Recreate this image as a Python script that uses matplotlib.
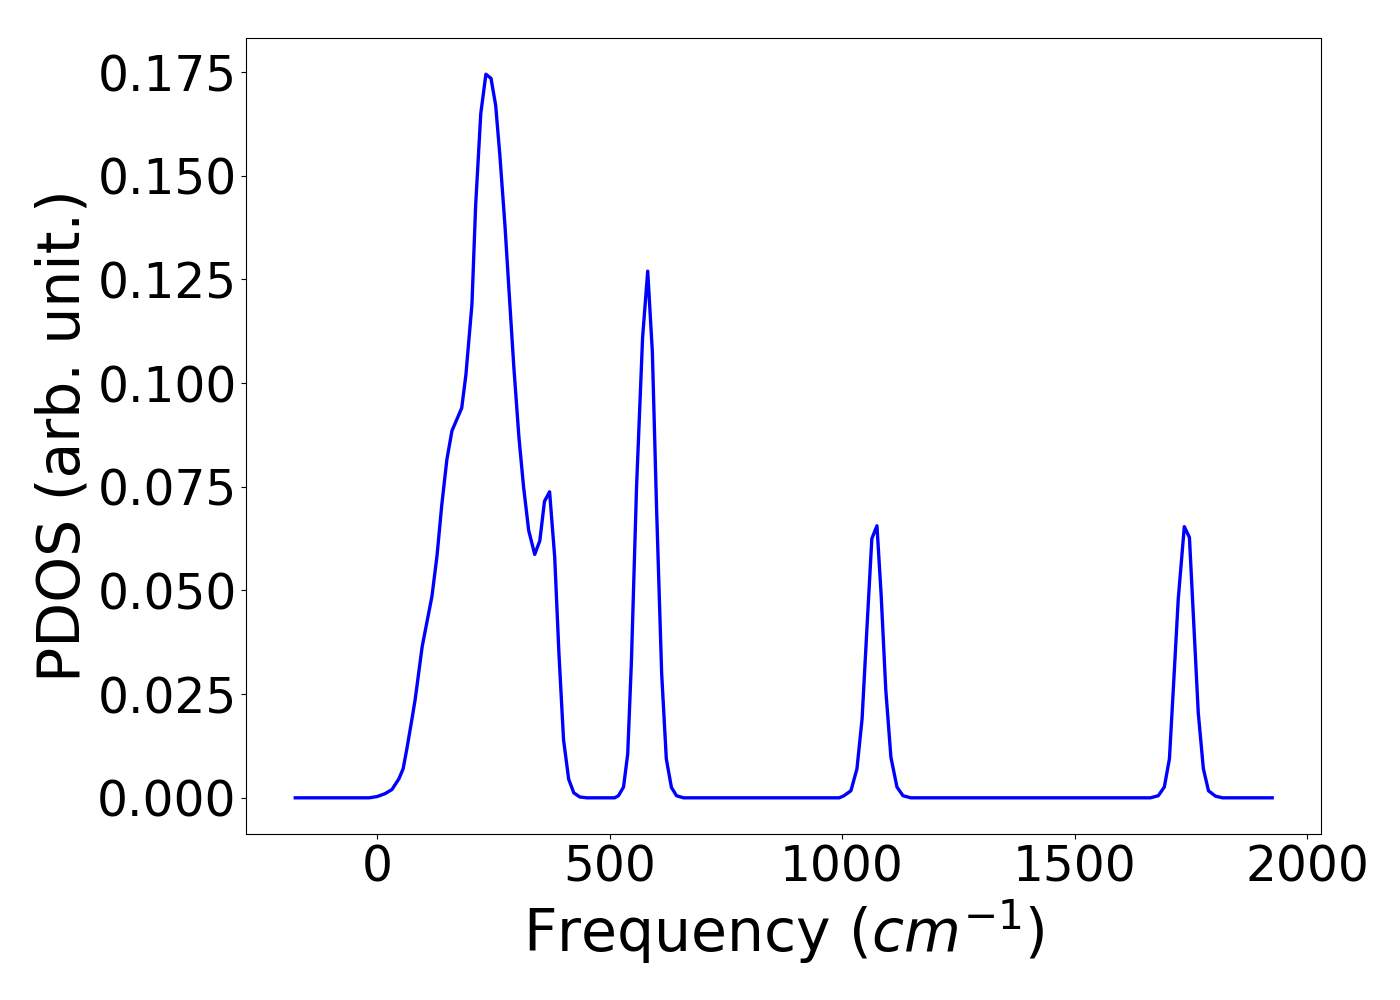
import numpy as np
import matplotlib
matplotlib.use('Agg')
import matplotlib.pyplot as plt

freq = [-176, -17, 0, 17, 32, 47, 56, 64, 75, 82, 97, 118, 129, 139, 150, 161,
        182, 191, 204, 212, 223, 234, 245, 255, 264, 275, 285, 294, 305, 315,
        326, 339, 350, 360, 371, 382, 391, 401, 412, 423, 436, 451,
        511, 519, 530, 539, 547, 558, 571, 582, 592, 601, 612, 622, 633, 644, 659,
        994, 1004, 1019, 1032, 1043, 1054, 1064, 1075, 1084, 1094, 1105, 1118, 1131, 1148,
        1663, 1680, 1693, 1704, 1712, 1723, 1736, 1747, 1755, 1766, 1777, 1788, 1803, 1818,
        1925]
pdos = [0.0, 0.0, 0.0003, 0.001, 0.002, 0.0046, 0.007, 0.0118, 0.019, 0.0238, 0.0365,
        0.0486, 0.0585, 0.0705, 0.0815, 0.0885,
        0.094, 0.102, 0.119, 0.143, 0.165, 0.1745, 0.1735, 0.167, 0.155, 0.138, 0.12,
        0.104, 0.087, 0.075,
        0.0645, 0.0587, 0.062, 0.0715, 0.0738, 0.058, 0.035, 0.014, 0.0045, 0.0012, 0.0002, 0.0,
        0.0, 0.0005, 0.0026, 0.0106, 0.033, 0.075, 0.111, 0.127, 0.1075, 0.07, 0.03, 0.0094,
        0.0025, 0.0005, 0.0,
        0.0, 0.0005, 0.0017, 0.007, 0.019, 0.042, 0.0625, 0.0656, 0.049, 0.026, 0.0098,
        0.0026, 0.0005, 0.0,
        0.0, 0.0005, 0.0026, 0.0094, 0.0255, 0.048, 0.0654, 0.0628, 0.045, 0.0205, 0.007,
        0.0017, 0.0004, 0.0,
        0.0]

fig = plt.figure(figsize=(14, 10), dpi=100)
ax = fig.add_subplot(111)
fig.subplots_adjust(left=0.176, right=0.9436, top=0.962, bottom=0.166)

ax.plot(freq, pdos, color='blue', lw=2.4)
ax.set_xticks([0, 500, 1000, 1500, 2000])
ax.set_xlabel(r'Frequency ($cm^{-1}$)', fontsize=42)
ax.set_ylabel('PDOS (arb. unit.)', fontsize=42)
ax.tick_params(labelsize=35)

fig.savefig('out.png')
